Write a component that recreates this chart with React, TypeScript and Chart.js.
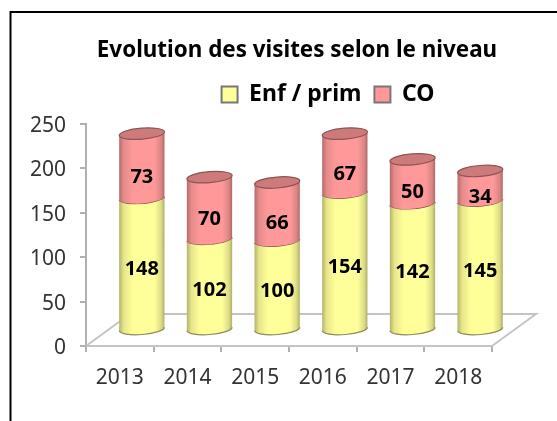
import React, { useEffect, useRef } from "react";
import { Chart, BarController, BarElement, registerables } from "chart.js";

const categories = ["2013", "2014", "2015", "2016", "2017", "2018"];
const enfPrim = [148, 102, 100, 154, 142, 145];
const co = [73, 70, 66, 67, 50, 34];
const yTicks = [0, 50, 100, 150, 200, 250];
const seriesNames = ["Enf / prim", "CO"];
const seriesColors = ["#ffff99", "#ff9999"];
const titleText = "Evolution des visites selon le niveau";

const FONT = "'Noto Sans', 'Open Sans', sans-serif";
const DEPTH_X = 22;
const DEPTH_Y = 16;
const ELLIPSE_RY = 5.5;
const TILT = -0.08;

function shade(hex: string, k: number) {
  const n = parseInt(hex.slice(1), 16);
  const c = [(n >> 16) & 255, (n >> 8) & 255, n & 255].map((v) => Math.round(v * k));
  return `rgb(${c[0]},${c[1]},${c[2]})`;
}

class CylinderElement extends (BarElement as any) {
  static id = "cylinderEl";
  draw(ctx: CanvasRenderingContext2D) {
    const me: any = this;
    const color: string = me.options.backgroundColor;
    const isTop = color === seriesColors[seriesColors.length - 1];
    const r = me.width / 2;
    const cx = me.x + DEPTH_X;
    const top = me.y - DEPTH_Y;
    const bot = me.base - DEPTH_Y;
    const left = cx - r;
    const right = cx + r;
    const s = Math.sin(-TILT) * r;
    const g = ctx.createLinearGradient(left, 0, right, 0);
    g.addColorStop(0, shade(color, 0.7));
    g.addColorStop(0.1, shade(color, 0.9));
    g.addColorStop(0.3, shade(color, 1));
    g.addColorStop(0.78, shade(color, 1));
    g.addColorStop(0.93, shade(color, 0.86));
    g.addColorStop(1, shade(color, 0.68));
    ctx.save();
    ctx.beginPath();
    ctx.moveTo(left, top + s);
    ctx.lineTo(left, bot + s);
    ctx.ellipse(cx, bot, r, ELLIPSE_RY, TILT, Math.PI, 0, true);
    ctx.lineTo(right, top - s);
    // a lower segment ends on the front arc of the segment sitting on it
    ctx.ellipse(cx, top, r, ELLIPSE_RY, TILT, 0, Math.PI, isTop);
    ctx.closePath();
    ctx.fillStyle = g;
    ctx.fill();
    ctx.lineWidth = 1.2;
    ctx.strokeStyle = shade(color, 0.55);
    ctx.beginPath();
    ctx.ellipse(cx, bot, r, ELLIPSE_RY, TILT, Math.PI, 0, true);
    ctx.stroke();
    if (isTop) {
      ctx.beginPath();
      ctx.ellipse(cx, top, r, ELLIPSE_RY, TILT, 0, Math.PI * 2);
      ctx.fillStyle = shade(color, 0.8);
      ctx.fill();
      ctx.stroke();
    }
    ctx.restore();
  }
}

class CylinderController extends (BarController as any) {
  static id = "cylinder";
  static defaults = { ...(BarController as any).defaults, dataElementType: "cylinderEl" };
  static overrides = (BarController as any).overrides;
}

const framePlugin = {
  id: "frame",
  beforeDraw(chart: any) {
    const { ctx, width, height } = chart;
    ctx.save();
    ctx.strokeStyle = "#000";
    ctx.lineWidth = 2;
    ctx.beginPath();
    ctx.moveTo(width, 12);
    ctx.lineTo(10.5, 12);
    ctx.lineTo(10.5, height);
    ctx.stroke();
    ctx.restore();
  },
};

const shiftPlugin = {
  id: "shift",
  afterLayout(chart: any) {
    chart.titleBlock.left += 51;
    chart.titleBlock.right += 51;
    chart.titleBlock.top -= 14;
    chart.titleBlock.bottom -= 14;
    chart.legend.left += 82;
    chart.legend.right += 82;
    chart.legend.top -= 8;
    chart.legend.bottom -= 8;
  },
};

const floorPlugin = {
  id: "floor",
  beforeDatasetsDraw(chart: any) {
    const { ctx, scales } = chart;
    const x0 = scales.x.left;
    const x1 = scales.x.right;
    const y0 = scales.y.getPixelForValue(0);
    const dx = DEPTH_X * 2;
    const dy = DEPTH_Y * 2;
    ctx.save();
    ctx.strokeStyle = "#c4c4c4";
    ctx.lineWidth = 2;
    ctx.beginPath();
    ctx.moveTo(x0, y0);
    ctx.lineTo(x0 + dx, y0 - dy);
    ctx.lineTo(x1 + dx, y0 - dy);
    ctx.lineTo(x1, y0);
    ctx.stroke();
    ctx.restore();
  },
};

const labelPlugin = {
  id: "barLabels",
  afterDatasetsDraw(chart: any) {
    const { ctx, data } = chart;
    ctx.save();
    ctx.font = `bold 20px ${FONT}`;
    ctx.fillStyle = "#000";
    ctx.textAlign = "center";
    ctx.textBaseline = "middle";
    data.datasets.forEach((ds: any, i: number) => {
      chart.getDatasetMeta(i).data.forEach((el: any, j: number) => {
        const mid = (el.y + el.base) / 2 - DEPTH_Y + (i === 0 ? 6 : 11);
        ctx.fillText(String(ds.data[j]), el.x + DEPTH_X, mid);
      });
    });
    ctx.restore();
  },
};

Chart.register(...registerables, CylinderElement as any, CylinderController as any);

export default function App() {
  const ref = useRef<HTMLCanvasElement>(null);
  useEffect(() => {
    const chart = new Chart(ref.current!, {
      type: "cylinder" as any,
      data: {
        labels: categories,
        datasets: [
          {
            label: seriesNames[0],
            data: enfPrim,
            backgroundColor: seriesColors[0],
            borderColor: "#777",
            borderWidth: 2,
            clip: false as any,
          },
          {
            label: seriesNames[1],
            data: co,
            backgroundColor: seriesColors[1],
            borderColor: "#777",
            borderWidth: 2,
            clip: false as any,
          },
        ],
      },
      options: {
        responsive: false,
        animation: false,
        layout: { padding: { left: 0, right: 65, top: 14, bottom: 0 } },
        datasets: { cylinder: { barPercentage: 1, categoryPercentage: 0.67 } } as any,
        plugins: {
          tooltip: { enabled: false },
          title: {
            display: true,
            text: titleText,
            color: "#000",
            font: { family: FONT, size: 22.4, weight: "bold" },
            padding: { top: 37, bottom: 0 },
          },
          legend: {
            display: true,
            position: "top",
            labels: {
              color: "#000",
              boxWidth: 16,
              boxHeight: 16,
              padding: 13,
              font: { family: FONT, size: 23, weight: "bold" },
            },
          },
        },
        scales: {
          x: {
            stacked: true,
            afterFit(s: any) {
              s.height = 75;
            },
            grid: { drawOnChartArea: false, tickLength: 6, color: "#b0b0b0", lineWidth: 2 },
            border: { color: "#c4c4c4", width: 2 },
            ticks: { color: "#333", padding: 13, font: { family: FONT, size: 21 }, maxRotation: 0 },
          },
          y: {
            stacked: true,
            min: yTicks[0],
            max: yTicks[yTicks.length - 1],
            afterFit(s: any) {
              s.width = 86;
            },
            afterBuildTicks(s: any) {
              s.ticks = yTicks.map((value) => ({ value }));
            },
            grid: { drawOnChartArea: false, tickLength: 6, color: "#b0b0b0", lineWidth: 2 },
            border: { color: "#b0b0b0", width: 2 },
            ticks: { color: "#333", padding: 14, labelOffset: 2, font: { family: FONT, size: 21 } },
          },
        },
      } as any,
      plugins: [framePlugin, shiftPlugin, floorPlugin, labelPlugin],
    });
    return () => chart.destroy();
  }, []);
  return (
    <canvas
      ref={ref}
      width={557}
      height={421}
      style={{ position: "fixed", left: 0, top: 0, display: "block", filter: "blur(0.4px)" }}
    />
  );
}
